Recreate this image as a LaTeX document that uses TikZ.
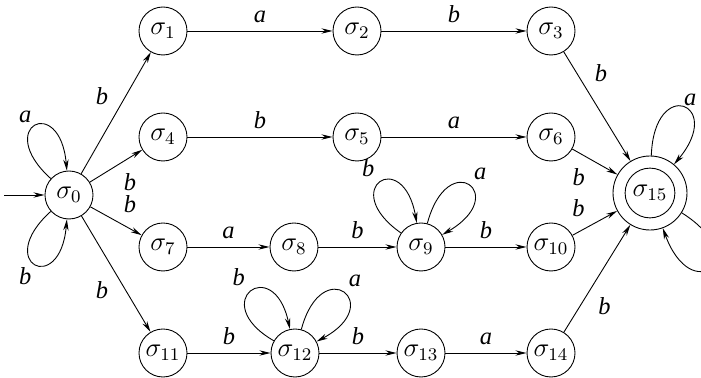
\documentclass[tikz,border=0pt]{standalone}
\usepackage{fontspec}
\setmainfont{Liberation Serif}
\usetikzlibrary{arrows.meta}

\begin{document}
\begin{tikzpicture}[x=0.45pt, y=0.45pt, auto, >={Stealth[length=5pt, width=2.4pt]},
    st/.style={circle, draw, minimum size=21.6pt, inner sep=0pt, font=\fontsize{11.5}{13}\selectfont},
    final/.style={circle, draw, minimum size=33.3pt, inner sep=0pt, font=\fontsize{11.5}{13}\selectfont,
        path picture={\draw (path picture bounding box.center) circle (11.2pt);}},
    lbl/.style={font=\fontsize{11}{13}\selectfont\itshape}]
    \useasboundingbox (0,0) rectangle (701,-378);
    % states
    \node (s0) [st] at (69,-195) {$\sigma_0$};
    \node (s1) [st] at (163,-31) {$\sigma_1$};
    \node (s2) [st] at (357,-31) {$\sigma_2$};
    \node (s3) [st] at (551,-31) {$\sigma_3$};
    \node (s4) [st] at (163,-137) {$\sigma_4$};
    \node (s5) [st] at (357,-137) {$\sigma_5$};
    \node (s6) [st] at (551,-137) {$\sigma_6$};
    \node (s7) [st] at (163,-247) {$\sigma_7$};
    \node (s8) [st] at (294,-247) {$\sigma_8$};
    \node (s9) [st] at (421,-247) {$\sigma_9$};
    \node (s10) [st] at (551,-247) {$\sigma_{10}$};
    \node (s11) [st] at (163,-353) {$\sigma_{11}$};
    \node (s12) [st] at (295,-353) {$\sigma_{12}$};
    \node (s13) [st] at (421,-353) {$\sigma_{13}$};
    \node (s14) [st] at (551,-353) {$\sigma_{14}$};
    \node (s15) [final] at (650,-193) {$\sigma_{15}$};
    \coordinate (start) at (4,-195);

    \draw[->] (start) -- (s0);
    \draw[->] (s0) -- node[lbl] {b} (s1);
    \draw[->] (s0) -- node[lbl, swap] {b} (s4);
    \draw[->] (s0) -- node[lbl] {b} (s7);
    \draw[->] (s0) -- node[lbl, swap] {b} (s11);
    \draw[->] (s0.138) to[out=138, in=95, distance=35pt] node[lbl, above left=-2pt] {a} (s0.95);
    \draw[->] (s0.222) to[out=222, in=265, distance=35pt] node[lbl, below left=-2pt] {b} (s0.265);

    \draw[->] (s1) -- node[lbl] {a} (s2);
    \draw[->] (s2) -- node[lbl] {b} (s3);
    \draw[->] (s4) -- node[lbl] {b} (s5);
    \draw[->] (s5) -- node[lbl] {a} (s6);
    \draw[->] (s7) -- node[lbl] {a} (s8);
    \draw[->] (s8) -- node[lbl] {b} (s9);
    \draw[->] (s9) -- node[lbl] {b} (s10);
    \draw[->] (s11) -- node[lbl] {b} (s12);
    \draw[->] (s12) -- node[lbl] {b} (s13);
    \draw[->] (s13) -- node[lbl] {a} (s14);

    \draw[->] (s9.145) to[out=145, in=100, distance=35pt] node[lbl, above left=-1pt] {b} (s9.100);
    \draw[->] (s9.75) to[out=75, in=30, distance=36pt] node[lbl, above right=-1pt] {a} (s9.30);
    \draw[->] (s12.150) to[out=150, in=102, distance=35pt] node[lbl, above left=-1pt] {b} (s12.102);
    \draw[->] (s12.75) to[out=75, in=28, distance=36pt] node[lbl, above right=-1pt] {a} (s12.28);

    \draw[->] (s3) -- node[lbl, pos=0.35] {b} (s15);
    \draw[->] (s6) -- node[lbl, pos=0.45, swap] {b} (s15);
    \draw[->] (s10) -- node[lbl, pos=0.45] {b} (s15);
    \draw[->] (s14) -- node[lbl, pos=0.4, swap] {b} (s15);
    \draw[->] (s15.88) to[out=88, in=50, distance=36pt] node[lbl, above right=-3pt] {a} (s15.50);
    \draw[->] (s15.-32) to[out=-32, in=-70, distance=38pt] node[lbl, below right=-3pt] {b} (s15.-70);
\end{tikzpicture}
\end{document}
